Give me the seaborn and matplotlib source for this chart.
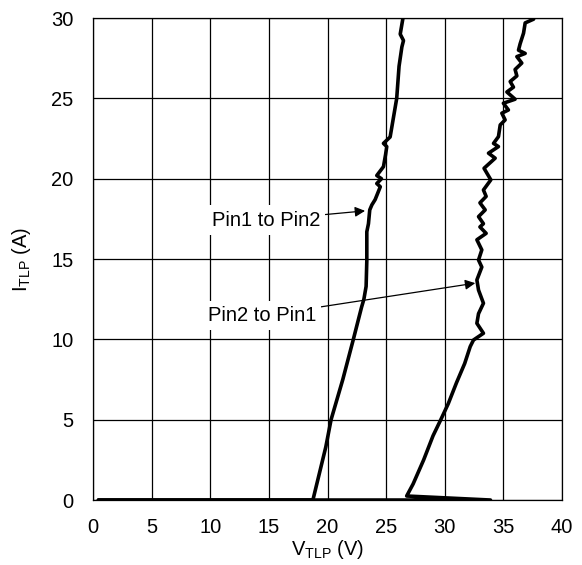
import matplotlib
matplotlib.use("Agg")
import pandas as pd
import matplotlib.pyplot as plt
import seaborn as sns

# TLP curves (V in volts, I in amps)
pin1_v = [0.45, 18.75, 19.85, 20.3, 21.3, 22.2, 22.9, 23.1, 23.29, 23.35, 23.35, 23.49,
          23.6, 23.78, 24.06, 24.5, 24.2, 24.6, 24.2, 24.77, 24.95, 25.05, 24.77, 25.34,
          25.9, 26.1, 26.34, 26.48, 26.2, 26.48]
pin1_i = [0.0, 0.0, 3.3, 5.0, 7.5, 10.0, 12.0, 12.5, 13.3, 14.9, 16.7, 17.2,
          18.06, 18.37, 18.7, 19.5, 19.7, 20.0, 20.2, 20.75, 21.5, 22.0, 22.2, 22.6,
          25.0, 27.0, 28.2, 28.6, 29.0, 30.2]

pin2_v = [0.45, 33.9, 26.75, 27.3, 28.2, 29.0, 29.66, 30.3, 31.0, 31.7, 32.17, 32.45,
          33.3, 32.74, 32.88, 33.3, 32.88, 32.74, 33.16, 32.88, 33.16, 32.74, 33.53, 33.0,
          33.3, 32.88, 33.45, 33.0, 33.53, 33.3, 33.93, 33.35, 34.3, 33.73, 34.58, 34.16,
          34.58, 34.73, 35.15, 34.87, 35.43, 35.0, 36.0, 35.3, 35.86, 35.58, 36.15, 36.0,
          36.57, 36.15, 36.86, 36.29, 36.43, 36.72, 36.86, 37.57, 37.7]
pin2_i = [0.0, 0.0, 0.25, 1.0, 2.5, 4.0, 5.0, 6.0, 7.3, 8.5, 9.55, 9.96,
          10.38, 11.0, 11.6, 12.25, 13.07, 13.7, 14.5, 14.94, 15.57, 16.2, 16.6, 17.0,
          17.2, 17.64, 18.06, 18.5, 18.9, 19.3, 19.93, 20.65, 21.28, 21.59, 22.0, 22.2,
          22.62, 23.35, 23.66, 24.08, 24.28, 24.7, 24.95, 25.4, 25.7, 26.05, 26.4, 26.8,
          27.2, 27.6, 27.8, 28.0, 28.4, 29.06, 29.7, 29.93, 30.2]

x_ticks = [0, 5, 10, 15, 20, 25, 30, 35, 40]
y_ticks = [0, 5, 10, 15, 20, 25, 30]

sns.set_style("white")
plt.rcParams['font.family'] = ['Liberation Sans', 'DejaVu Sans']
plt.rcParams['mathtext.default'] = 'regular'
plt.rcParams['text.color'] = 'black'
plt.rcParams['axes.labelcolor'] = 'black'

fig, ax = plt.subplots(figsize=(5.82, 5.65), dpi=100)
fig.subplots_adjust(left=0.160, right=0.9656, bottom=0.115, top=0.968)

df1 = pd.DataFrame({'V': pin1_v, 'I': pin1_i})
df2 = pd.DataFrame({'V': pin2_v, 'I': pin2_i})
sns.lineplot(data=df1, x='V', y='I', sort=False, estimator=None, color='black', lw=2.6, ax=ax, zorder=3)
sns.lineplot(data=df2, x='V', y='I', sort=False, estimator=None, color='black', lw=2.6, ax=ax, zorder=3)

ax.set_xlim(0, 40)
ax.set_ylim(0, 30)
ax.set_xticks(x_ticks)
ax.set_yticks(y_ticks)
ax.grid(True, color='black', lw=0.9)
ax.set_axisbelow(True)
for s in ax.spines.values():
    s.set_color('black')
    s.set_linewidth(0.9)
ax.tick_params(length=0, labelsize=14.5, colors='black')
ax.tick_params(axis='y', pad=14)
ax.tick_params(axis='x', pad=13)
ax.set_xlabel('V$_{TLP}$ (V)', fontsize=14.5, labelpad=1)
ax.set_ylabel('I$_{TLP}$ (A)', fontsize=14.5, labelpad=13)

# labels with arrows
arrow = dict(arrowstyle='-|>', color='black', lw=0.9, shrinkA=0, shrinkB=0, mutation_scale=15)
box = dict(boxstyle='square,pad=0.25', fc='white', ec='none')
ax.annotate('Pin1 to Pin2', xy=(23.2, 18.0), xytext=(14.76, 17.43), ha='center', va='center',
            fontsize=14.5, color='black', bbox=box, arrowprops=arrow, zorder=4)
ax.annotate('Pin2 to Pin1', xy=(32.6, 13.5), xytext=(14.4, 11.46), ha='center', va='center',
            fontsize=14.5, color='black', bbox=box, arrowprops=arrow, zorder=4)

plt.savefig('out.png', dpi=100)
